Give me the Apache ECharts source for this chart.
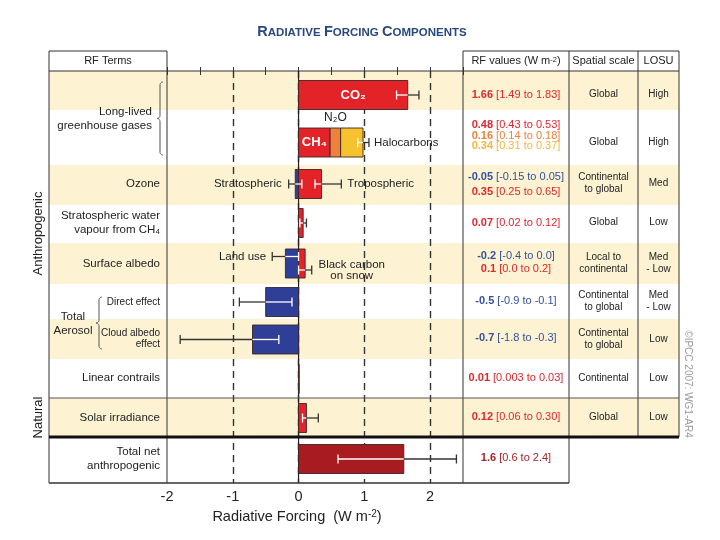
<!DOCTYPE html>
<html>
<head>
<meta charset="utf-8">
<script src="https://cdn.jsdelivr.net/npm/echarts@6.0.0/dist/echarts.min.js"></script>
<style>
html,body{margin:0;padding:0;background:#ffffff;}
#chart{width:720px;height:540px;}
</style>
</head>
<body>
<div id="chart"></div>
<script>
// ===================== DATA =====================
const components = ['CO₂','CH₄','N₂O','Halocarbons','Stratospheric ozone','Tropospheric ozone',
  'Stratospheric water vapour from CH₄','Land use','Black carbon on snow','Direct effect',
  'Cloud albedo effect','Linear contrails','Solar irradiance','Total net anthropogenic'];
const rfBest = [1.66, 0.48, 0.16, 0.34, -0.05, 0.35, 0.07, -0.2, 0.1, -0.5, -0.7, 0.01, 0.12, 1.6];
const rfLow  = [1.49, 0.43, 0.14, 0.31, -0.15, 0.25, 0.02, -0.4, 0.0, -0.9, -1.8, 0.003, 0.06, 0.6];
const rfHigh = [1.83, 0.53, 0.18, 0.37, 0.05, 0.65, 0.12, 0.0, 0.2, -0.1, -0.3, 0.03, 0.30, 2.4];
const rfDecimals = [2, 2, 2, 2, 2, 2, 2, 1, 1, 1, 1, 2, 2, 1];
const rowOfComponent = [0, 1, 1, 1, 2, 2, 3, 4, 4, 5, 6, 7, 8, 9];
const colorOfComponent = ['red','red','orange','yellow','blue','red','red','blue','red','blue','blue','red','red','dark'];
const hasErrorBar = [1, 0, 0, 0, 1, 1, 1, 1, 1, 1, 1, 0, 1, 1];
const llghgCombinedRange = [0.90, 1.07];   // CH4 + N2O + halocarbons uncertainty
const xTickLabels = [-2, -1, 0, 1, 2];
const dashedAt = [-1, 1, 2];
const spatialScale = ['Global','Global','Continental\nto global','Global','Local to\ncontinental',
  'Continental\nto global','Continental\nto global','Continental','Global',''];
const losu = ['High','High','Med','Low','Med\n- Low','Med\n- Low','Low','Low','Low',''];

// ===================== STYLE / LAYOUT =====================
const FONT = "'Liberation Sans', Arial, Helvetica, sans-serif";
const palette = {red:'#e42329', orange:'#f0813b', yellow:'#f8c22f', blue:'#2f3f98', dark:'#a71b21'};
const textPalette = {red:'#e0272d', orange:'#ee7f3c', yellow:'#f2b83a', blue:'#34509c', dark:'#a8242b'};
const CREAM = '#fdf3d3';
const X = {left:49, terms:167, plotR:463, vals:569, scale:638, losu:679};
const Y = {head:51, top:71};
const rowHeights = [39, 55, 40, 38, 41, 35, 40, 39, 39, 46];
const rowBarShift = [4.5, 5, -1, -1, 0, 0.5, 0.5, 0.5, 0.5, -1];
const errShift = [0, 0, 0, 0, 0, 0, 0, -7, 6.5, 0, 0, 0, 0, 0];
const valShift = [0, -17.5, -6.5, 3.5, -7, 8, 0, -7.5, 5.5, -1, -1.5, -1, -1, -1];
const creamRows = [0, 2, 4, 6, 8];
const barThickness = 29;

const rowTop = []; let acc = 0;
rowHeights.forEach(h => { rowTop.push(acc); acc += h; });
const totalH = acc;
const rowMid = r => rowTop[r] + rowHeights[r] / 2;
const barMid = r => rowMid(r) + rowBarShift[r];
const py = u => Y.top + u;

// ===================== BUILD SERIES DATA =====================
const barData = [], barColors = [];
const rowMin = Array(rowHeights.length).fill(0), rowMax = Array(rowHeights.length).fill(0);
const posAcc = Array(rowHeights.length).fill(0), negAcc = Array(rowHeights.length).fill(0);
const barStart = [], barEnd = [];
components.forEach((c, i) => {
  const r = rowOfComponent[i], v = rfBest[i];
  let s, e;
  if (v >= 0) { s = posAcc[r]; e = s + v; posAcc[r] = e; } else { s = negAcc[r]; e = s + v; negAcc[r] = e; }
  barStart.push(s); barEnd.push(e);
  barData.push([barMid(r), Math.min(s, e), Math.max(s, e)]);
  barColors.push(palette[colorOfComponent[i]]);
  rowMin[r] = Math.min(rowMin[r], s, e); rowMax[r] = Math.max(rowMax[r], s, e);
});
const errData = [];
components.forEach((c, i) => {
  if (!hasErrorBar[i]) return;
  const r = rowOfComponent[i];
  errData.push([barMid(r) + errShift[i], rfLow[i], rfHigh[i], rowMin[r], rowMax[r]]);
});
errData.push([barMid(1), llghgCombinedRange[0], llghgCombinedRange[1], rowMin[1], rowMax[1]]);

function renderBar(params, api) {
  const y = api.value(0), a = api.value(1), b = api.value(2);
  const p0 = api.coord([a, y]), p1 = api.coord([b, y]);
  const h = api.size([0, barThickness])[1];
  return {type:'rect', shape:{x:p0[0], y:p0[1] - h / 2, width:p1[0] - p0[0], height:h},
    style:{fill:barColors[params.dataIndex], stroke:'#3a2626', lineWidth:0.9}};
}
function renderErr(params, api) {
  const y = api.value(0), lo = api.value(1), hi = api.value(2), bmin = api.value(3), bmax = api.value(4);
  const cap = api.size([0, 9])[1] / 2;
  const eps = 1e-9;
  const inside = v => v >= bmin - eps && v <= bmax + eps;
  const br = [lo, hi];
  [bmin, bmax].forEach(v => { if (v > lo + eps && v < hi - eps) br.push(v); });
  br.sort((p, q) => p - q);
  const ch = [];
  for (let k = 0; k < br.length - 1; k++) {
    const m = (br[k] + br[k + 1]) / 2;
    const p = api.coord([br[k], y]), q = api.coord([br[k + 1], y]);
    ch.push({type:'line', shape:{x1:p[0], y1:p[1], x2:q[0], y2:q[1]},
      style:{stroke: inside(m) ? '#ffffff' : '#333333', lineWidth:1.3}});
  }
  [lo, hi].forEach(v => {
    const p = api.coord([v, y]);
    ch.push({type:'line', shape:{x1:p[0], y1:p[1] - cap, x2:p[0], y2:p[1] + cap},
      style:{stroke: inside(v) ? '#ffffff' : '#333333', lineWidth:1.3}});
  });
  return {type:'group', children:ch};
}

const tickCommon = {
  type:'value', min:-2, max:2.5, interval:0.5, gridIndex:0,
  axisLine:{show:false},
  axisTick:{show:true, inside:true, length:4, lineStyle:{color:'#333', width:1}},
  splitLine:{show:false}
};

const chart = echarts.init(document.getElementById('chart'), null, {renderer:'canvas'});
chart.setOption({
  animation:false,
  backgroundColor:'#ffffff',
  textStyle:{fontFamily:FONT},
  grid:{left:X.terms, top:Y.top, width:X.plotR - X.terms, height:totalH, containLabel:false},
  xAxis:[
    Object.assign({}, tickCommon, {position:'bottom',
      axisLabel:{show:true, margin:6, fontSize:14.5, color:'#222', fontFamily:FONT,
        formatter: v => xTickLabels.includes(v) ? String(v) : ''}}),
    Object.assign({}, tickCommon, {position:'top', axisLabel:{show:false}}),
    {type:'value', min:-2, max:2.5, interval:1, gridIndex:0, position:'bottom',
      axisLine:{show:false}, axisTick:{show:false}, axisLabel:{show:false},
      splitLine:{show:true, showMinLine:false, showMaxLine:false,
        lineStyle:{color:'#333', width:1.4, type:[7, 5]}}}
  ],
  yAxis:{type:'value', inverse:true, min:0, max:totalH, show:false},
  series:[
    {type:'custom', name:'bars', coordinateSystem:'cartesian2d', xAxisIndex:0, yAxisIndex:0, z:3,
      encode:{x:[1, 2], y:0}, data:barData, renderItem:renderBar, silent:true},
    {type:'custom', name:'errors', coordinateSystem:'cartesian2d', xAxisIndex:0, yAxisIndex:0, z:4,
      encode:{x:[1, 2], y:0}, data:errData, renderItem:renderErr, silent:true}
  ]
});

// ===================== TABLE / ANNOTATIONS =====================
const G = [];
function ln(x1, y1, x2, y2, w, c, z) {
  return {type:'line', z: z === undefined ? 25 : z, silent:true, shape:{x1, y1, x2, y2},
    style:{stroke:c || '#333', lineWidth:w || 1}};
}
function txt(x, y, text, o) {
  o = o || {};
  const st = {text, fill:o.color || '#222', fontSize:o.size || 11.5, fontFamily:FONT,
    fontWeight:o.weight || 'normal', align:o.align || 'center', verticalAlign:'middle'};
  if (o.lh) st.lineHeight = o.lh;
  if (o.rich) st.rich = o.rich;
  return {type:'text', x, y, z:30, rotation:o.rotation || 0, silent:true, style:st};
}
function braceLine(x, y1, y2, r) {
  const mid = (y1 + y2) / 2, pts = [];
  const arc = (cx, cy, a0, a1) => { for (let k = 0; k <= 8; k++) { const a = a0 + (a1 - a0) * k / 8; pts.push([cx + r * Math.cos(a), cy + r * Math.sin(a)]); } };
  arc(x, y1 + r, -Math.PI / 2, -Math.PI);
  arc(x - 2 * r, mid - r, 0, Math.PI / 2);
  arc(x - 2 * r, mid + r, -Math.PI / 2, 0);
  arc(x, y2 - r, Math.PI, Math.PI / 2);
  return {type:'polyline', z:30, silent:true, shape:{points:pts}, style:{stroke:'#555', lineWidth:1, fill:null}};
}
const P = (xv, yu) => chart.convertToPixel({xAxisIndex:0, yAxisIndex:0}, [xv, yu]);

// cream bands
creamRows.forEach(r => G.push({type:'rect', z:-5, silent:true,
  shape:{x:X.left, y:py(rowTop[r]), width:X.losu - X.left, height:rowHeights[r]}, style:{fill:CREAM}}));

const T = Y.top, B = py(totalH), HT = Y.head, thickY = py(rowTop[9]), natY = py(rowTop[8]);
// zero line
const x0 = P(0, 0)[0];
G.push(ln(x0, T, x0, B, 1.2, '#222', 1));
// table lines
G.push(ln(X.left, HT, X.terms, HT));
G.push(ln(X.plotR, HT, X.losu, HT));
G.push(ln(X.left, T, X.losu, T));
G.push(ln(X.left, HT, X.left, B));
G.push(ln(X.terms, HT, X.terms, B));
G.push(ln(X.plotR, HT, X.plotR, B));
G.push(ln(X.vals, HT, X.vals, B));
G.push(ln(X.scale, HT, X.scale, thickY));
G.push(ln(X.losu, HT, X.losu, thickY));
G.push(ln(X.left, B, X.vals, B, 1.3));
G.push(ln(X.left, natY, X.losu, natY, 1, '#555'));
G.push(ln(X.left, thickY, X.losu, thickY, 3, '#111'));

// title
const tr = {
  L:{fontSize:14.5, fontWeight:'bold', fontFamily:FONT, fill:'#27497d', verticalAlign:'bottom', lineHeight:16},
  s:{fontSize:11.5, fontWeight:'bold', fontFamily:FONT, fill:'#27497d', verticalAlign:'bottom', lineHeight:13}
};
G.push(txt(362, 31, '{L|R}{s|ADIATIVE} {L|F}{s|ORCING} {L|C}{s|OMPONENTS}', {rich:tr, size:12, weight:'bold', color:'#27497d'}));

// headers
const supRich = {sup:{fontSize:7.5, fontFamily:FONT, fill:'#222', verticalAlign:'top', lineHeight:8}};
G.push(txt((X.left + X.terms) / 2, 61, 'RF Terms', {size:11}));
G.push(txt((X.plotR + X.vals) / 2, 61, 'RF values (W m{sup|-2})', {size:11, rich:supRich}));
G.push(txt((X.vals + X.scale) / 2, 61, 'Spatial scale', {size:11}));
G.push(txt((X.scale + X.losu) / 2, 61, 'LOSU', {size:11}));

// left term labels
const LX = 160;
G.push(txt(152, py((rowTop[0] + rowTop[2]) / 2) + 1, 'Long-lived\ngreenhouse gases', {align:'right', lh:14}));
G.push(braceLine(163, py(rowTop[0]) + 11, py(rowTop[2]) - 10, 3));
G.push(txt(LX, py(barMid(2)), 'Ozone', {align:'right'}));
G.push(txt(LX, py(barMid(3)), 'Stratospheric water\nvapour from CH₄', {align:'right', lh:14}));
G.push(txt(LX, py(barMid(4)), 'Surface albedo', {align:'right'}));
G.push(txt(LX, py(barMid(5)), 'Direct effect', {align:'right', size:10}));
G.push(txt(LX, py(barMid(6)) - 1, 'Cloud albedo\neffect', {align:'right', size:10, lh:11.5}));
G.push(txt(73, py(rowTop[6]) + 5, 'Total\nAerosol', {lh:14}));
G.push(braceLine(102, py(rowTop[5]) + 13, py(rowTop[6]) + 30, 3));
G.push(txt(LX, py(barMid(7)) - 1, 'Linear contrails', {align:'right'}));
G.push(txt(LX, py(barMid(8)), 'Solar irradiance', {align:'right'}));
G.push(txt(LX, py(rowMid(9)) - 1, 'Total net\nanthropogenic', {align:'right', lh:14}));
G.push(txt(38, 233.5, 'Anthropogenic', {size:13, rotation:Math.PI / 2}));
G.push(txt(38, py(rowMid(8)), 'Natural', {size:13, rotation:Math.PI / 2}));

// in-plot labels
let p;
p = P(barStart[0] + rfBest[0] / 2, barMid(0)); G.push(txt(p[0], p[1], 'CO₂', {size:13, weight:'bold', color:'#ffffff'}));
p = P(barStart[1] + rfBest[1] / 2, barMid(1)); G.push(txt(p[0], p[1], 'CH₄', {size:13, weight:'bold', color:'#ffffff'}));
p = P(barStart[2] + rfBest[2] / 2, barMid(1) - barThickness / 2 - 10); G.push(txt(p[0], p[1], 'N₂O', {size:12}));
p = P(llghgCombinedRange[1], barMid(1)); G.push(txt(p[0] + 5, p[1], 'Halocarbons', {align:'left'}));
p = P(rfLow[4], barMid(2)); G.push(txt(p[0] - 7, p[1], 'Stratospheric', {align:'right'}));
p = P(rfHigh[5], barMid(2)); G.push(txt(p[0] + 6, p[1], 'Tropospheric', {align:'left'}));
p = P(rfLow[7], barMid(4) + errShift[7]); G.push(txt(p[0] - 6, p[1], 'Land use', {align:'right'}));
p = P(rfHigh[8], barMid(4) + errShift[8]); G.push(txt(p[0] + 40, p[1] + 0.5, 'Black carbon\non snow', {lh:10.5}));

// RF values column
const VX = (X.plotR + X.vals) / 2;
function fmt(v, d) { const s = String(v); const nd = s.includes('.') ? s.split('.')[1].length : 0; return v.toFixed(Math.max(d, nd)); }
components.forEach((c, i) => {
  const col = textPalette[colorOfComponent[i]];
  const d = rfDecimals[i];
  const rich = {
    b:{fontSize:11, fontWeight:'bold', fontFamily:FONT, fill:col},
    r:{fontSize:11, fontFamily:FONT, fill:col}
  };
  const t = '{b|' + fmt(rfBest[i], d) + '} {r|[' + fmt(rfLow[i], d) + ' to ' + fmt(rfHigh[i], d) + ']}';
  G.push(txt(VX, py(barMid(rowOfComponent[i]) + valShift[i]), t, {size:11, rich, color:col}));
});
// spatial scale & LOSU
spatialScale.forEach((s, r) => { if (s) G.push(txt((X.vals + X.scale) / 2, py(barMid(r)) - 0.5, s, {size:10, lh:12, color:'#222'})); });
losu.forEach((s, r) => { if (s) G.push(txt((X.scale + X.losu) / 2, py(barMid(r)) - 0.5, s, {size:10, lh:12, color:'#222'})); });

// axis title
G.push(txt(297, 517, 'Radiative Forcing  (W m{sup|-2})', {size:14.5,
  rich:{sup:{fontSize:10, fontFamily:FONT, fill:'#222', verticalAlign:'top', lineHeight:10}}}));
// copyright
G.push(txt(688, 384, '©IPCC 2007: WG1-AR4', {size:10, color:'#9a9a9a', rotation:-Math.PI / 2}));

chart.setOption({graphic:{elements:G}});
</script>
</body>
</html>
